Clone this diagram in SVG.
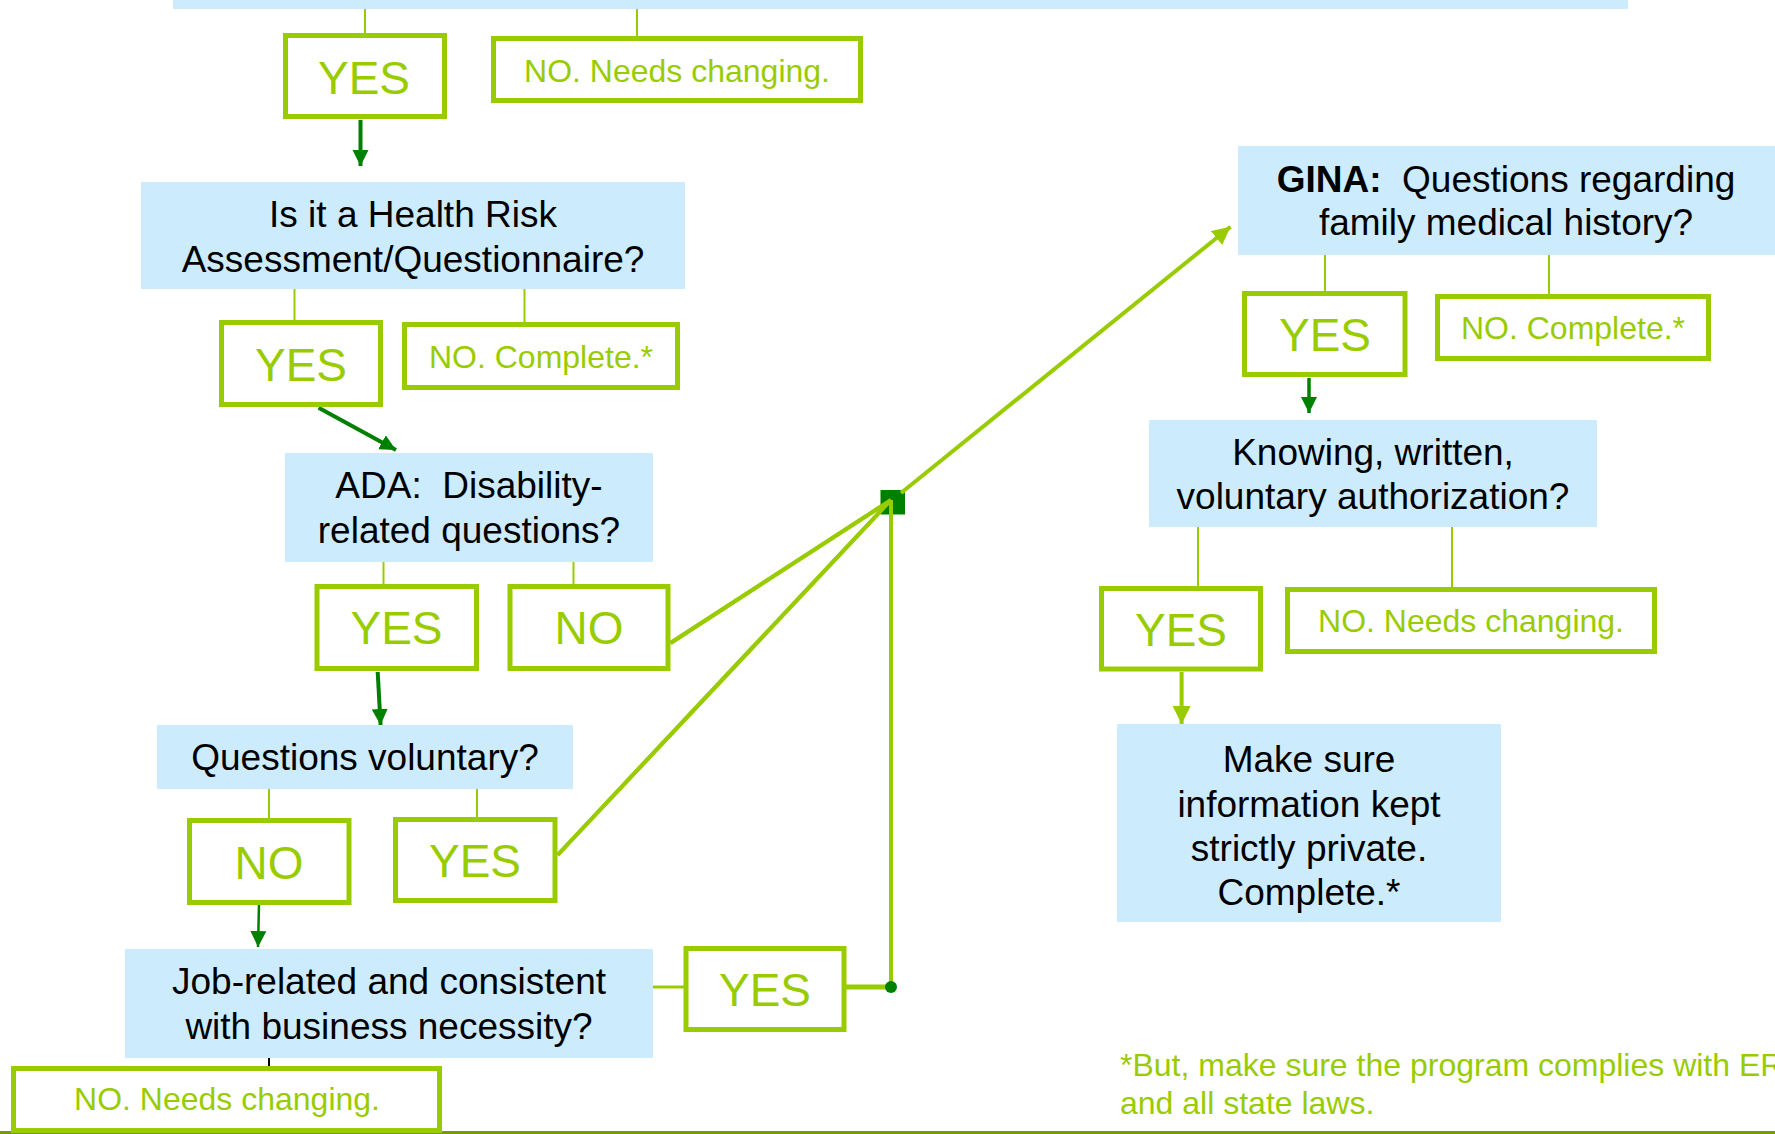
<svg xmlns="http://www.w3.org/2000/svg" width="1775" height="1134" viewBox="0 0 1775 1134">
<style>
.q{fill:#CCECFE}
.b{fill:#fff;stroke:#99CC00;stroke-width:5}
.t{font-family:"Liberation Sans",Arial,sans-serif;font-size:37px;fill:#000;text-anchor:middle;white-space:pre}
.g{font-family:"Liberation Sans",Arial,sans-serif;fill:#99CC00;text-anchor:middle}
.big{font-size:46px}
.sm{font-size:32px}
.thin{stroke:#99CC00;stroke-width:2;fill:none}
.lg{stroke:#99CC00;stroke-width:4;fill:none}
.dg{stroke:#008000;stroke-width:4;fill:none}
</style>
<defs>
<marker id="ad" markerUnits="userSpaceOnUse" markerWidth="17" markerHeight="17" refX="16" refY="8" orient="auto"><path d="M0,0 L16,8 L0,16 z" fill="#008000"/></marker>
<marker id="al" markerUnits="userSpaceOnUse" markerWidth="19" markerHeight="19" refX="18" refY="9" orient="auto"><path d="M0,0 L18,9 L0,18 z" fill="#99CC00"/></marker>
</defs>
<rect width="1775" height="1134" fill="#fff"/>

<g id="connectors">
<line class="thin" x1="365" y1="9" x2="365" y2="34"/>
<line class="thin" x1="637" y1="9" x2="637" y2="37"/>
<line class="dg" x1="360.5" y1="120" x2="360.5" y2="166" marker-end="url(#ad)"/>
<line class="thin" x1="294.5" y1="289" x2="294.5" y2="321"/>
<line class="thin" x1="524.5" y1="289" x2="524.5" y2="323"/>
<line class="dg" x1="318.6" y1="407.7" x2="396" y2="450" marker-end="url(#ad)"/>
<line class="thin" x1="383.5" y1="562" x2="383.5" y2="585"/>
<line class="thin" x1="573.5" y1="562" x2="573.5" y2="585"/>
<line class="dg" x1="377.7" y1="672" x2="380.6" y2="725" marker-end="url(#ad)"/>
<line class="thin" x1="269" y1="789" x2="269" y2="819"/>
<line class="thin" x1="477" y1="789" x2="477" y2="818"/>
<line class="dg" style="stroke-width:2.5" x1="259" y1="904" x2="258" y2="947" marker-end="url(#ad)"/>
<line class="lg" style="stroke-width:3" x1="653" y1="987" x2="684" y2="987"/>
<line class="lg" style="stroke-width:5" x1="846" y1="987" x2="891" y2="987"/>
<line stroke="#000" stroke-width="2" x1="269" y1="1058" x2="269" y2="1068"/>
<line class="lg" x1="891" y1="987" x2="891" y2="500"/>
<line class="lg" x1="670.5" y1="643" x2="891" y2="500"/>
<line class="lg" x1="557.6" y1="855" x2="891" y2="500"/>
<rect x="880.5" y="490" width="24.5" height="24.5" fill="#008000"/>
<line class="lg" x1="891" y1="987" x2="891" y2="500"/>
<line class="lg" x1="670.5" y1="643" x2="891" y2="500"/>
<line class="lg" x1="557.6" y1="855" x2="891" y2="500"/>
<circle cx="891" cy="987" r="6" fill="#008000"/>
<line class="lg" x1="901" y1="493" x2="1230.5" y2="226.7" marker-end="url(#al)"/>
<line class="thin" x1="1325" y1="255" x2="1325" y2="292"/>
<line class="thin" x1="1549" y1="255" x2="1549" y2="295"/>
<line class="dg" style="stroke-width:3.5" x1="1309" y1="378" x2="1309" y2="413" marker-end="url(#ad)"/>
<line class="thin" x1="1198" y1="527" x2="1198" y2="587"/>
<line class="thin" x1="1452" y1="527" x2="1452" y2="588"/>
<line class="lg" x1="1181.6" y1="672" x2="1181.6" y2="724" marker-end="url(#al)"/>
<line stroke="#789A00" stroke-width="3" x1="0" y1="1132.5" x2="1775" y2="1132.5"/>
</g>

<g id="top"><rect class="q" x="173" y="-20" width="1455" height="29"/></g>

<g id="yes1"><rect class="b" x="285.5" y="35.5" width="159" height="81"/><text class="g big" x="364" y="94">YES</text></g>
<g id="no1"><rect class="b" x="493.5" y="38.5" width="367" height="62"/><text class="g sm" x="677" y="82">NO. Needs changing.</text></g>

<g id="hra"><rect class="q" x="141" y="182" width="544" height="107"/><text class="t" x="413" y="227">Is it a Health Risk</text><text class="t" x="413" y="272">Assessment/Questionnaire?</text></g>

<g id="yes2"><rect class="b" x="221.5" y="322.5" width="159" height="82"/><text class="g big" x="301" y="381">YES</text></g>
<g id="noc2"><rect class="b" x="404.5" y="324.5" width="273" height="63"/><text class="g sm" x="541" y="368">NO. Complete.*</text></g>

<g id="ada"><rect class="q" x="285" y="453" width="368" height="109"/><text class="t" x="469" y="498">ADA:  Disability-</text><text class="t" x="469" y="543">related questions?</text></g>

<g id="yes3"><rect class="b" x="317" y="586.5" width="159.5" height="82"/><text class="g big" x="396.5" y="644">YES</text></g>
<g id="no3"><rect class="b" x="510" y="586.5" width="158" height="82"/><text class="g big" x="589" y="644">NO</text></g>

<g id="qv"><rect class="q" x="157" y="725" width="416" height="64"/><text class="t" x="365" y="770">Questions voluntary?</text></g>

<g id="no4"><rect class="b" x="189.5" y="820.5" width="159.5" height="82"/><text class="g big" x="269" y="879">NO</text></g>
<g id="yes4"><rect class="b" x="395.5" y="819.5" width="159.5" height="81"/><text class="g big" x="475" y="877">YES</text></g>

<g id="job"><rect class="q" x="125" y="949" width="528" height="109"/><text class="t" x="389" y="994">Job-related and consistent</text><text class="t" x="389" y="1039">with business necessity?</text></g>

<g id="yes5"><rect class="b" x="686" y="948.5" width="158" height="81"/><text class="g big" x="765" y="1006">YES</text></g>
<g id="no5"><rect class="b" x="13.5" y="1068.5" width="426" height="62"/><text class="g sm" x="227" y="1110">NO. Needs changing.</text></g>

<g id="gina"><rect class="q" x="1238" y="146" width="540" height="109"/><text class="t" x="1506" y="192"><tspan font-weight="bold">GINA:</tspan>  Questions regarding</text><text class="t" x="1506" y="235">family medical history?</text></g>

<g id="yes6"><rect class="b" x="1244.5" y="293.5" width="160.5" height="81"/><text class="g big" x="1325" y="351">YES</text></g>
<g id="noc6"><rect class="b" x="1437.5" y="296.5" width="271" height="62"/><text class="g sm" x="1573" y="339">NO. Complete.*</text></g>

<g id="knowing"><rect class="q" x="1149" y="420" width="448" height="107"/><text class="t" x="1373" y="465">Knowing, written,</text><text class="t" x="1373" y="509">voluntary authorization?</text></g>

<g id="yes7"><rect class="b" x="1101.5" y="588.5" width="159" height="80.5"/><text class="g big" x="1181" y="646">YES</text></g>
<g id="no7"><rect class="b" x="1287.5" y="589.5" width="367" height="62"/><text class="g sm" x="1471" y="632">NO. Needs changing.</text></g>

<g id="private"><rect class="q" x="1117" y="724" width="384" height="198"/><text class="t" x="1309" y="772">Make sure</text><text class="t" x="1309" y="816.5">information kept</text><text class="t" x="1309" y="861">strictly private.</text><text class="t" x="1309" y="905">Complete.*</text></g>

<g id="footnote"><text class="g sm" style="text-anchor:start" x="1120" y="1076">*But, make sure the program complies with ERISA</text><text class="g sm" style="text-anchor:start" x="1120" y="1114">and all state laws.</text></g>
</svg>
